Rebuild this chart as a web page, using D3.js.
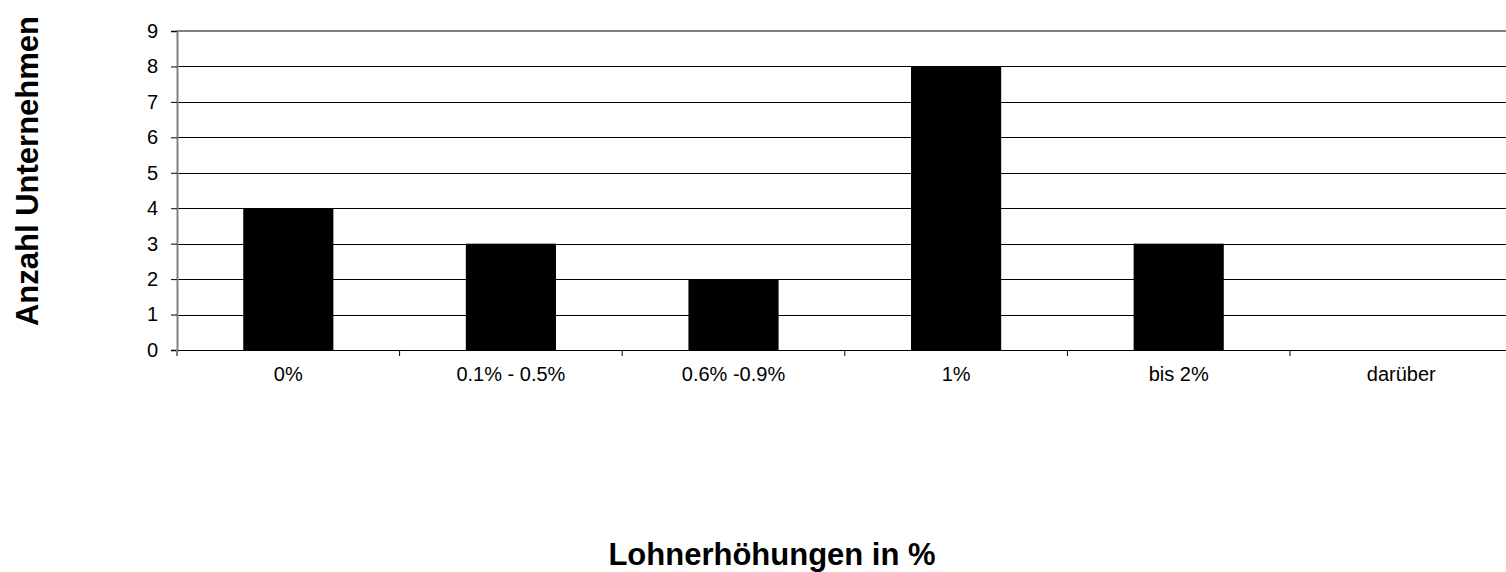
<!DOCTYPE html>
<html><head><meta charset="utf-8">
<script src="https://cdn.jsdelivr.net/npm/d3@7"></script>
<style>body{margin:0;background:#fff}svg{display:block}</style>
</head><body>
<script>
const categories = ["0%", "0.1% - 0.5%", "0.6% -0.9%", "1%", "bis 2%", "darüber"];
const values = [4, 3, 2, 8, 3, 0];
const yTicks = [0,1,2,3,4,5,6,7,8,9];
const xTitle = "Lohnerhöhungen in %";
const yTitle = "Anzahl Unternehmen";

const W = 1506, H = 572;
const FONT = "Arial, 'Liberation Sans', sans-serif";
const m = {left: 177, top: 31, right: 1512.6, bottom: 350};
const svg = d3.select("body").append("svg").attr("width", W).attr("height", H)
  .style("font-family", FONT);

const x = d3.scaleBand().domain(categories).range([m.left, m.right]).paddingInner(0).paddingOuter(0);
const y = d3.scaleLinear().domain([0, 9]).range([m.bottom, m.top]);

// gridlines
svg.append("g").selectAll("line").data(yTicks.filter(d => d > 0 && d < 9)).join("line")
  .attr("x1", m.left).attr("x2", m.right)
  .attr("y1", d => Math.round(y(d)) + 0.5).attr("y2", d => Math.round(y(d)) + 0.5)
  .attr("stroke", "#000").attr("stroke-width", 1);
// top border
svg.append("line").attr("x1", m.left).attr("x2", m.right)
  .attr("y1", y(9)).attr("y2", y(9)).attr("stroke", "#808080").attr("stroke-width", 2);

// bars
const bw = x.bandwidth() * 0.405;
svg.append("g").selectAll("rect").data(values).join("rect")
  .attr("x", (d, i) => x(categories[i]) + (x.bandwidth() - bw) / 2)
  .attr("width", bw)
  .attr("y", d => y(d)).attr("height", d => y(0) - y(d))
  .attr("fill", "#000");

// y axis
const yAxis = svg.append("g").attr("transform", `translate(${m.left},0)`)
  .call(d3.axisLeft(y).tickValues(yTicks).tickSize(6).tickPadding(13).tickFormat(d3.format("d")));
yAxis.attr("font-size", 20).attr("font-family", FONT);
yAxis.select(".domain").attr("stroke", "#808080").attr("stroke-width", 2);
yAxis.selectAll(".tick line").attr("stroke", "#000");
yAxis.selectAll("text").attr("fill", "#000");

// x axis
const xAxis = svg.append("g").attr("transform", `translate(0,${m.bottom})`)
  .call(d3.axisBottom(x).tickSize(0).tickPadding(17));
xAxis.attr("font-size", 20).attr("font-family", FONT);
xAxis.select(".domain").attr("stroke", "#000").attr("stroke-width", 1.2);
xAxis.selectAll("text").attr("fill", "#000");
// category boundary ticks
svg.append("g").selectAll("line").data(categories).join("line")
  .attr("x1", d => x(d) + x.bandwidth()).attr("x2", d => x(d) + x.bandwidth())
  .attr("y1", m.bottom).attr("y2", m.bottom + 6).attr("stroke", "#000");
svg.append("line").attr("x1", m.left).attr("x2", m.left).attr("y1", m.bottom).attr("y2", m.bottom + 6)
  .attr("stroke", "#808080").attr("stroke-width", 2);

// titles
svg.append("text").attr("x", 772).attr("y", 565).attr("text-anchor", "middle")
  .attr("font-size", 31).attr("font-weight", "bold").text(xTitle);
svg.append("text").attr("transform", "translate(38,171) rotate(-90)").attr("text-anchor", "middle")
  .attr("font-size", 31).attr("font-weight", "bold").text(yTitle);
</script>
</body></html>
